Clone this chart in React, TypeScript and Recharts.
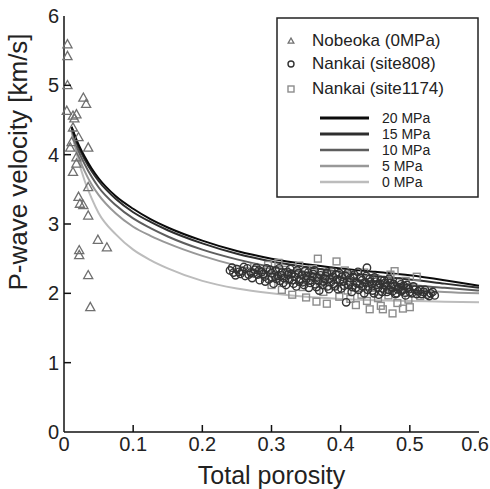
import React from "react";
import {
  ComposedChart,
  Line,
  Scatter,
  XAxis,
  YAxis,
} from "recharts";

// curve sample porosities
const curveX = [0.011, 0.02, 0.03, 0.04, 0.05, 0.075, 0.1, 0.125, 0.15, 0.2, 0.25, 0.3, 0.35, 0.4, 0.45, 0.5, 0.55, 0.6];
const vp20 = [4.4, 4.17, 3.97, 3.8, 3.66, 3.4, 3.22, 3.07, 2.95, 2.76, 2.61, 2.5, 2.42, 2.36, 2.31, 2.26, 2.19, 2.11];
const vp15 = [4.4, 4.14, 3.93, 3.76, 3.62, 3.36, 3.17, 3.03, 2.91, 2.72, 2.57, 2.46, 2.38, 2.31, 2.25, 2.2, 2.14, 2.08];
const vp10 = [4.38, 4.08, 3.86, 3.68, 3.53, 3.27, 3.08, 2.94, 2.82, 2.63, 2.49, 2.38, 2.3, 2.23, 2.17, 2.12, 2.08, 2.04];
const vp5 = [4.35, 4.0, 3.76, 3.57, 3.42, 3.15, 2.96, 2.83, 2.72, 2.54, 2.4, 2.3, 2.22, 2.15, 2.09, 2.05, 2.02, 2.0];
const vp0 = [4.33, 3.95, 3.62, 3.37, 3.16, 2.85, 2.63, 2.48, 2.36, 2.18, 2.07, 2.0, 1.95, 1.92, 1.9, 1.89, 1.88, 1.87];

const curveNames = ["20 MPa", "15 MPa", "10 MPa", "5 MPa", "0 MPa"];
const curveValues = [vp20, vp15, vp10, vp5, vp0];
const curveColors = ["#0b0b0b", "#2e2e2e", "#5e5e5e", "#989898", "#bcbcbc"];

// Nobeoka (0MPa) [porosity, Vp]
const nobeoka: [number, number][] = [
  [0.005, 5.59], [0.005, 5.42], [0.005, 5.0], [0.028, 4.82], [0.032, 4.73], [0.004, 4.63],
  [0.013, 4.56], [0.018, 4.58], [0.015, 4.52], [0.013, 4.39], [0.021, 4.25], [0.011, 4.18],
  [0.009, 4.1], [0.035, 4.1], [0.018, 3.96], [0.018, 3.87], [0.013, 3.75], [0.035, 3.53],
  [0.021, 3.39], [0.023, 3.29], [0.028, 3.27], [0.035, 3.12], [0.049, 2.77], [0.062, 2.66],
  [0.022, 2.62], [0.022, 2.55], [0.035, 2.26], [0.038, 1.8],
];

// Nankai (site808)
const site808: [number, number][] = [
  [0.24, 2.33], [0.245, 2.3], [0.25, 2.35], [0.255, 2.28], [0.258, 2.32], [0.262, 2.25], [0.265, 2.36],
  [0.27, 2.3], [0.272, 2.22], [0.276, 2.34], [0.28, 2.27], [0.283, 2.19], [0.286, 2.31], [0.29, 2.24],
  [0.293, 2.36], [0.296, 2.2], [0.3, 2.29], [0.303, 2.14], [0.306, 2.33], [0.309, 2.25], [0.312, 2.18],
  [0.315, 2.3], [0.318, 2.22], [0.321, 2.12], [0.324, 2.27], [0.327, 2.35], [0.33, 2.19], [0.333, 2.24],
  [0.336, 2.1], [0.339, 2.29], [0.342, 2.21], [0.345, 2.16], [0.348, 2.32], [0.351, 2.25], [0.354, 2.08],
  [0.357, 2.19], [0.36, 2.28], [0.363, 2.13], [0.366, 2.23], [0.369, 2.04], [0.372, 2.3], [0.375, 2.17],
  [0.378, 2.25], [0.381, 2.1], [0.384, 2.21], [0.387, 2.32], [0.39, 2.14], [0.393, 2.27], [0.396, 2.06],
  [0.399, 2.19], [0.402, 2.24], [0.405, 2.11], [0.408, 1.87], [0.41, 2.29], [0.413, 2.16], [0.416, 2.02],
  [0.419, 2.22], [0.422, 2.08], [0.425, 2.31], [0.428, 2.13], [0.431, 2.19], [0.434, 2.0], [0.437, 2.25],
  [0.438, 2.37], [0.44, 2.1], [0.443, 2.17], [0.446, 2.04], [0.449, 2.23], [0.452, 2.12], [0.455, 1.98],
  [0.458, 2.19], [0.461, 2.07], [0.464, 2.15], [0.467, 2.02], [0.47, 2.21], [0.473, 2.09], [0.476, 2.14],
  [0.479, 1.99], [0.482, 2.06], [0.485, 2.17], [0.488, 2.03], [0.491, 2.11], [0.494, 1.97], [0.497, 2.08],
  [0.5, 2.02], [0.505, 2.1], [0.51, 1.99], [0.515, 2.05], [0.52, 2.02], [0.525, 1.98], [0.53, 2.0], [0.536, 1.97],
  [0.243, 2.37], [0.248, 2.26], [0.253, 2.31], [0.26, 2.38], [0.267, 2.27], [0.274, 2.29], [0.278, 2.37],
  [0.282, 2.33], [0.288, 2.28], [0.291, 2.17], [0.298, 2.34], [0.301, 2.23], [0.307, 2.21], [0.311, 2.36],
  [0.314, 2.26], [0.317, 2.15], [0.323, 2.31], [0.326, 2.2], [0.329, 2.28], [0.332, 2.14], [0.337, 2.33],
  [0.34, 2.17], [0.344, 2.27], [0.347, 2.12], [0.35, 2.2], [0.353, 2.3], [0.356, 2.15], [0.359, 2.24],
  [0.362, 2.33], [0.365, 2.09], [0.368, 2.18], [0.371, 2.26], [0.374, 2.12], [0.377, 2.21], [0.38, 2.3],
  [0.383, 2.06], [0.386, 2.16], [0.389, 2.24], [0.392, 2.1], [0.395, 2.2], [0.398, 2.29], [0.401, 2.07],
  [0.404, 2.17], [0.407, 2.25], [0.411, 2.12], [0.414, 2.22], [0.417, 2.09], [0.42, 2.27], [0.423, 2.15],
  [0.426, 2.05], [0.429, 2.22], [0.432, 2.1], [0.435, 2.16], [0.439, 2.05], [0.442, 2.21], [0.445, 2.13],
  [0.448, 2.0], [0.451, 2.17], [0.454, 2.08], [0.457, 2.14], [0.46, 2.02], [0.463, 2.19], [0.466, 2.1],
  [0.469, 2.05], [0.472, 2.15], [0.475, 2.03], [0.478, 2.11], [0.481, 2.0], [0.484, 2.09], [0.487, 2.13],
  [0.49, 2.05], [0.493, 2.01], [0.496, 2.12], [0.499, 2.06], [0.503, 2.0], [0.507, 2.05], [0.512, 2.03],
  [0.517, 1.99], [0.522, 2.05], [0.528, 1.96], [0.533, 2.02],
];

// Nankai (site1174)
const site1174: [number, number][] = [
  [0.275, 2.38], [0.285, 2.3], [0.295, 2.41], [0.3, 2.12], [0.305, 2.26], [0.31, 2.44], [0.315, 2.05],
  [0.32, 2.34], [0.325, 2.19], [0.33, 1.98], [0.335, 2.28], [0.34, 2.4], [0.345, 2.09], [0.35, 1.94],
  [0.355, 2.22], [0.36, 2.35], [0.365, 1.88], [0.367, 2.5], [0.37, 2.15], [0.375, 2.02], [0.38, 1.85],
  [0.385, 2.27], [0.39, 2.11], [0.394, 2.46], [0.398, 1.95], [0.402, 2.2], [0.406, 2.33], [0.41, 2.04],
  [0.414, 1.92], [0.418, 2.26], [0.422, 1.83], [0.426, 2.14], [0.43, 1.98], [0.434, 2.3], [0.438, 1.89],
  [0.442, 1.77], [0.446, 2.08], [0.45, 2.22], [0.454, 1.93], [0.458, 1.82], [0.461, 1.77], [0.465, 2.12],
  [0.469, 1.97], [0.472, 2.27], [0.475, 1.71], [0.478, 2.32], [0.482, 1.86], [0.486, 2.05], [0.49, 1.78],
  [0.494, 2.18], [0.498, 1.91], [0.5, 1.8], [0.505, 2.09], [0.51, 2.24], [0.515, 1.96], [0.52, 2.02],
];

const xTicks = [0, 0.1, 0.2, 0.3, 0.4, 0.5, 0.6];
const yTicks = [0, 1, 2, 3, 4, 5, 6];

const FONT = "'Liberation Sans', Arial, sans-serif";
const toPts = (rows: [number, number][]) => rows.map(([x, y]) => ({ x, y }));

const Triangle = ({ cx, cy, r = 4.8, stroke = "#707070" }: any) => (
  <path
    d={`M${cx},${cy - r} L${cx + r * 0.95},${cy + r * 0.7} L${cx - r * 0.95},${cy + r * 0.7} Z`}
    fill="none"
    stroke={stroke}
    strokeWidth={1.3}
  />
);
const Circle = ({ cx, cy, r = 3.7, stroke = "#333" }: any) => (
  <circle cx={cx} cy={cy} r={r} fill="none" stroke={stroke} strokeWidth={1.4} />
);
const Square = ({ cx, cy, r = 3.4, stroke = "#8c8c8c" }: any) => (
  <rect x={cx - r} y={cy - r} width={r * 2} height={r * 2} fill="none" stroke={stroke} strokeWidth={1.4} />
);

const BottomTick = ({ x, y, payload }: any) => {
  const v = payload.value;
  const last = v >= 0.6;
  return (
    <g>
      {v > 0 && !last && <line x1={x} x2={x} y1={y} y2={y - 7} stroke="#111" strokeWidth={1.5} />}
      <text x={last ? x + 10 : x} y={y + 19} textAnchor={last ? "end" : "middle"} fontSize={20} fill="#222">
        {v === 0 ? "0" : v.toFixed(1)}
      </text>
    </g>
  );
};
const LeftTick = ({ x, y, payload }: any) => {
  const v = payload.value;
  return (
    <g>
      {v > 0 && v < 6 && <line x1={x} x2={x + 7} y1={y} y2={y} stroke="#111" strokeWidth={1.5} />}
      <text x={x - 5} y={y + 7} textAnchor="end" fontSize={20} fill="#222">
        {v}
      </text>
    </g>
  );
};
const TopTick = ({ x, y, payload }: any) => {
  const v = payload.value;
  if (v <= 0 || v >= 0.6) return null;
  return <line x1={x} x2={x} y1={y} y2={y + 7} stroke="#111" strokeWidth={1.5} />;
};
const RightTick = ({ x, y, payload }: any) => {
  const v = payload.value;
  if (v <= 0 || v >= 6) return null;
  return <line x1={x} x2={x - 7} y1={y} y2={y} stroke="#111" strokeWidth={1.5} />;
};

function LegendBox() {
  const markers = [
    { name: "Nobeoka (0MPa)", Shape: Triangle, y: 24 },
    { name: "Nankai (site808)", Shape: Circle, y: 47 },
    { name: "Nankai (site1174)", Shape: Square, y: 72 },
  ];
  const lineY = [101, 117, 133, 149, 165];
  return (
    <svg width={203} height={181} style={{ position: "absolute", left: 276, top: 17 }}>
      <rect x={1} y={1} width={201} height={179} fill="#fff" stroke="#222" strokeWidth={1.5} />
      {markers.map((m) => (
        <g key={m.name}>
          <m.Shape cx={15} cy={m.y} r={3} />
          <text x={36} y={m.y + 5} fontSize={17} fill="#222" fontFamily={FONT}>
            {m.name}
          </text>
        </g>
      ))}
      {curveNames.map((n, i) => (
        <g key={n}>
          <line x1={44} x2={93} y1={lineY[i]} y2={lineY[i]} stroke={curveColors[i]} strokeWidth={i < 2 ? 3 : 2.5} />
          <text x={106} y={lineY[i] + 5} fontSize={14} fill="#222" fontFamily={FONT}>
            {n}
          </text>
        </g>
      ))}
    </svg>
  );
}

export default function App() {
  return (
    <div style={{ position: "absolute", left: 0, top: 0, width: 490, height: 489, background: "#fff", fontFamily: FONT }}>
      <ComposedChart width={490} height={489} margin={{ top: 16, right: 11, bottom: 0, left: 0 }}>
        <XAxis
          xAxisId="b"
          type="number"
          dataKey="x"
          domain={[0, 0.6]}
          ticks={xTicks}
          tick={<BottomTick />}
          tickLine={false}
          tickSize={0}
          tickMargin={0}
          height={57}
          axisLine={{ stroke: "#111", strokeWidth: 1.5 }}
          label={{ value: "Total porosity", position: "insideBottom", offset: 5, fontSize: 25, fill: "#222" }}
        />
        <XAxis
          xAxisId="t"
          orientation="top"
          type="number"
          dataKey="x"
          domain={[0, 0.6]}
          ticks={xTicks}
          tick={<TopTick />}
          tickLine={false}
          tickSize={0}
          tickMargin={0}
          height={0}
          axisLine={{ stroke: "#111", strokeWidth: 1.5 }}
        />
        <YAxis
          yAxisId="l"
          type="number"
          dataKey="y"
          domain={[0, 6]}
          ticks={yTicks}
          tick={<LeftTick />}
          tickLine={false}
          tickSize={0}
          tickMargin={0}
          width={64}
          axisLine={{ stroke: "#111", strokeWidth: 1.5 }}
          label={{
            value: "P-wave velocity [km/s]",
            angle: -90,
            position: "insideLeft",
            offset: 18,
            dy: -62,
            fontSize: 26,
            fill: "#222",
            style: { textAnchor: "middle" },
          }}
        />
        <YAxis
          yAxisId="r"
          orientation="right"
          type="number"
          dataKey="y"
          domain={[0, 6]}
          ticks={yTicks}
          tick={<RightTick />}
          tickLine={false}
          tickSize={0}
          tickMargin={0}
          width={0}
          axisLine={{ stroke: "#111", strokeWidth: 1.5 }}
        />
        {curveValues.map((vals, i) => (
          <Line
            key={curveNames[i]}
            xAxisId="b"
            yAxisId="l"
            data={curveX.map((x, j) => ({ x, y: vals[j] }))}
            dataKey="y"
            type="monotone"
            stroke={curveColors[i]}
            strokeWidth={2}
            dot={false}
            activeDot={false}
            isAnimationActive={false}
          />
        )).reverse()}
        <Scatter xAxisId="b" yAxisId="l" data={toPts(site1174)} shape={<Square />} isAnimationActive={false} />
        <Scatter xAxisId="b" yAxisId="l" data={toPts(site808)} shape={<Circle />} isAnimationActive={false} />
        <Scatter xAxisId="b" yAxisId="l" data={toPts(nobeoka)} shape={<Triangle />} isAnimationActive={false} />
      </ComposedChart>
      <LegendBox />
    </div>
  );
}
